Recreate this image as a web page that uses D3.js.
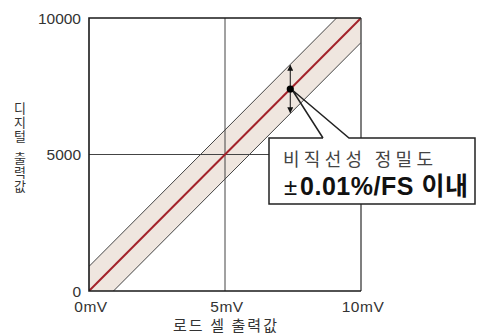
<!DOCTYPE html>
<html>
<head>
<meta charset="utf-8">
<script src="https://cdn.jsdelivr.net/npm/d3@7"></script>
<style>
  html, body { margin: 0; padding: 0; background: #fff; }
  svg { display: block; }
  text { font-family: "Liberation Sans", "Noto Sans CJK KR", sans-serif; }
  .kr { font-family: "Noto Sans CJK KR", "Liberation Sans", sans-serif; }
  .vert { writing-mode: vertical-rl; text-orientation: upright; }
</style>
</head>
<body>
<svg id="chart" width="477" height="336"></svg>
<script>
// Load-cell input (mV) against digital output counts
const xDomain = [0, 10];
const yDomain = [0, 10000];
const xTicks = [0, 5, 10];
const xTickLabels = ["0mV", "5mV", "10mV"];
const yTicks = [0, 5000, 10000];
const yTickLabels = ["0", "5000", "10000"];
const idealX = [0, 10];
const idealY = [0, 10000];
const toleranceCounts = 900;     // half-width of the accuracy band
const markerX = 7.4;             // where the band width is indicated
const markerY = 7400;
const xTitle = "로드 셀 출력값";
const yTitleWords = ["디지털", "출력값"];
const calloutLine1 = "비직선성 정밀도";
const calloutLine2Sign = "±";
const calloutLine2 = "0.01%/FS 이내";

const svg = d3.select("#chart");
const plotL = 89, plotR = 361, plotT = 18, plotB = 291;

const x = d3.scaleLinear().domain(xDomain).range([plotL, plotR]);
const y = d3.scaleLinear().domain(yDomain).range([plotB, plotT]);

const defs = svg.append("defs");
defs.append("clipPath").attr("id", "plot-clip")
  .append("rect").attr("x", plotL).attr("y", plotT)
  .attr("width", plotR - plotL).attr("height", plotB - plotT);

defs.append("marker").attr("id", "arrow").attr("viewBox", "0 0 10 10")
  .attr("refX", 9).attr("refY", 5).attr("markerWidth", 7).attr("markerHeight", 6)
  .attr("markerUnits", "userSpaceOnUse").attr("orient", "auto-start-reverse")
  .append("path").attr("d", "M0,0 L10,5 L0,10 Z").attr("fill", "#111");

// Accuracy band around the ideal line
const upper = idealX.map((v, i) => [v, idealY[i] + toleranceCounts]);
const lower = idealX.map((v, i) => [v, idealY[i] - toleranceCounts]);
const line = d3.line().x(d => x(d[0])).y(d => y(d[1]));

const plot = svg.append("g").attr("clip-path", "url(#plot-clip)");
plot.append("path")
  .attr("d", line(upper.concat(lower.slice().reverse())) + "Z")
  .attr("fill", "#efe6df");

// Grid lines at mid-scale
svg.append("g").selectAll("line").data(xTicks.filter(t => t > xDomain[0] && t < xDomain[1]))
  .join("line")
  .attr("x1", d => x(d)).attr("x2", d => x(d)).attr("y1", plotT).attr("y2", plotB)
  .attr("stroke", "#444").attr("stroke-width", 1);
svg.append("g").selectAll("line").data(yTicks.filter(t => t > yDomain[0] && t < yDomain[1]))
  .join("line")
  .attr("x1", plotL).attr("x2", plotR).attr("y1", d => y(d)).attr("y2", d => y(d))
  .attr("stroke", "#444").attr("stroke-width", 1);

const band = svg.append("g").attr("clip-path", "url(#plot-clip)");
band.append("path").attr("d", line(upper)).attr("fill", "none")
  .attr("stroke", "#444").attr("stroke-width", 1);
band.append("path").attr("d", line(lower)).attr("fill", "none")
  .attr("stroke", "#444").attr("stroke-width", 1);

// Ideal transfer line
band.append("path")
  .attr("d", line(idealX.map((v, i) => [v, idealY[i]])))
  .attr("fill", "none").attr("stroke", "#a3222a").attr("stroke-width", 2);

// Frame
svg.append("line").attr("x1", plotR).attr("x2", plotR).attr("y1", plotT).attr("y2", plotB)
  .attr("stroke", "#555").attr("stroke-width", 1.5);
svg.append("path")
  .attr("d", `M${plotR},${plotT}H${plotL}V${plotB}H${plotR}`)
  .attr("fill", "none").attr("stroke", "#1a1a1a").attr("stroke-width", 1.6);

// Tick labels
svg.append("g").selectAll("text").data(yTicks).join("text")
  .attr("x", plotL - 8).attr("y", d => y(d)).attr("dy", "0.36em")
  .attr("text-anchor", "end").attr("font-size", 15.5).attr("fill", "#333")
  .text((d, i) => yTickLabels[i]);
svg.append("g").selectAll("text").data(xTicks).join("text")
  .attr("x", d => x(d) + 2).attr("y", 312)
  .attr("text-anchor", "middle").attr("font-size", 15.5).attr("fill", "#333")
  .attr("letter-spacing", "0.5px")
  .text((d, i) => xTickLabels[i]);

// Axis titles
svg.append("text").attr("class", "kr")
  .attr("x", 173).attr("y", 331)
  .attr("font-size", 15).attr("fill", "#333")
  .attr("textLength", 104).attr("lengthAdjust", "spacing")
  .text(xTitle);

// Vertical title, written top to bottom in two words
svg.append("g").selectAll("text").data(yTitleWords).join("text")
  .attr("class", "kr vert")
  .attr("x", 20).attr("y", (d, i) => 102 + i * 50)
  .attr("font-size", 13).attr("fill", "#333")
  .attr("letter-spacing", "1px")
  .text(d => d);

// Band-width indicator
const mx = x(markerX), my = y(markerY);
svg.append("line")
  .attr("x1", mx).attr("x2", mx)
  .attr("y1", y(markerY + toleranceCounts) + 1).attr("y2", y(markerY - toleranceCounts) - 1)
  .attr("stroke", "#111").attr("stroke-width", 1)
  .attr("marker-start", "url(#arrow)").attr("marker-end", "url(#arrow)");

// Callout box with pointer
const bx0 = 269, bx1 = 475, by0 = 138, by1 = 204, p0 = 323, p1 = 349;
svg.append("rect").attr("x", bx0).attr("y", by0).attr("width", bx1 - bx0).attr("height", by1 - by0)
  .attr("fill", "#fff");
svg.append("path")
  .attr("d", `M${p0},${by0}H${bx0}V${by1}H${bx1}V${by0}H${p1}L${mx + 2},${my + 1}L${p0},${by0}`)
  .attr("fill", "none").attr("stroke", "#222").attr("stroke-width", 1.5)
  .attr("stroke-linejoin", "miter");

svg.append("circle").attr("cx", mx).attr("cy", my).attr("r", 3.6).attr("fill", "#000");

svg.append("text").attr("class", "kr")
  .attr("x", 283).attr("y", 166)
  .attr("font-size", 18).attr("fill", "#444")
  .attr("textLength", 150).attr("lengthAdjust", "spacing")
  .text(calloutLine1);

const t2 = svg.append("text").attr("y", 195).attr("font-size", 25).attr("fill", "#111");
t2.append("tspan").attr("x", 284).attr("font-weight", "normal").attr("font-size", 24)
  .text(calloutLine2Sign);
t2.append("tspan").attr("x", 300).attr("font-weight", "bold")
  .attr("textLength", 168).attr("lengthAdjust", "spacing")
  .text(calloutLine2);
</script>
</body>
</html>
